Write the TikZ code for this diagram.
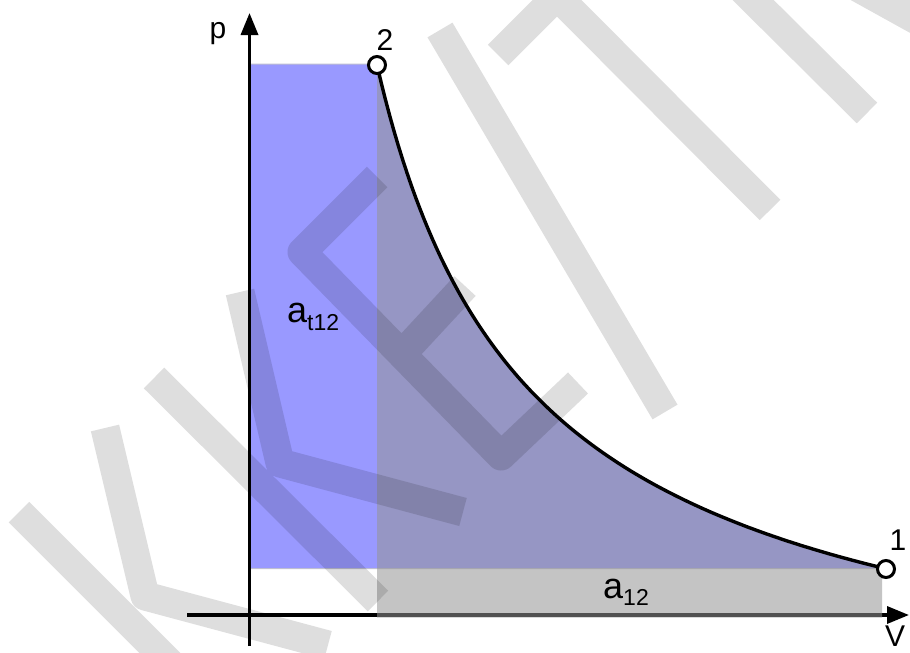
\documentclass[tikz,border=0pt]{standalone}
\usepackage{fontspec}
\setmainfont{Liberation Sans}
\usetikzlibrary{arrows.meta}
\definecolor{areablue}{RGB}{153,153,255}
\definecolor{areagray}{RGB}{148,148,148}
\definecolor{edgegray}{RGB}{190,190,210}
\begin{document}
\begin{tikzpicture}[x=1pt,y=-1pt,
  axisline/.style={line width=3.4pt,-{Triangle[length=22pt,width=17pt]}},
  curveline/.style={line width=3.4pt,draw=black},
  statept/.style={circle,draw=black,line width=3pt,fill=white,minimum size=17pt,inner sep=0pt},
  lbl/.style={font=\fontsize{30}{30}\selectfont,inner sep=0pt,anchor=base},
  arealbl/.style={font=\fontsize{36}{36}\selectfont,inner sep=0pt,anchor=base west},
  wmark/.style={line width=29pt,draw=black,draw opacity=0.13,line join=round,line cap=butt}]
\useasboundingbox (0,0) rectangle (910,653);
% blue area (technical work)
\fill[areablue,draw=edgegray,line width=1pt] (250,64) -- (377,64)
  -- plot[domain=127:636,samples=120,variable=\v] ({250+\v},{615-(700*pow(127/\v,0.79)-150)})
  -- (886,568.5) -- (250,568.5) -- cycle;
% axes
\coordinate (Ybot) at (249.5,646);
\coordinate (Ytop) at (249.5,13);
\coordinate (Xl) at (187,615);
\coordinate (Xr) at (909,615);
\draw[axisline] (Ybot) -- (Ytop);
\draw[axisline] (Xl) -- (Xr);
% gray area (volume work)
\fill[areagray,opacity=0.55] (377,617.5)
  -- plot[domain=127:636,samples=120,variable=\v] ({250+\v},{615-(700*pow(127/\v,0.79)-150)})
  -- (882,569) -- (882,617.5) -- cycle;
% curve
\draw[curveline] plot[domain=127:636,samples=120,variable=\v] ({250+\v},{615-(700*pow(127/\v,0.79)-150)});
% state points
\node[statept] (P2) at (377,65) {};
\node[statept] (P1) at (886,569) {};
% labels
\node[lbl] (L2) at (385,50) {2};
\node[lbl] (L1) at (898,550) {1};
\node[lbl] (Lp) at (218,38.5) {p};
\node[lbl] (LV) at (895,646) {V};
\node[arealbl] (At) at (287,322) {a\raisebox{-8pt}{\fontsize{23}{23}\selectfont t12}};
\node[arealbl] (A12) at (603,598) {a\raisebox{-7pt}{\fontsize{23}{23}\selectfont 12}};
% watermark
\draw[wmark] (19,512) -- (180,673)
  (105,428) -- (145,596) -- (328,645)
  (154,378) -- (378,601)
  (240,292) -- (280,463) -- (463,512)
  (377,177) -- (302,252) -- (501,456) -- (578,383)
  (402,354) -- (465,286)
  (440,30) -- (665,412)
  (498,55) -- (557,-4) -- (770,210)
  (740,-13) -- (867,113)
  (830,-28) -- (960,44);
\end{tikzpicture}
\end{document}
